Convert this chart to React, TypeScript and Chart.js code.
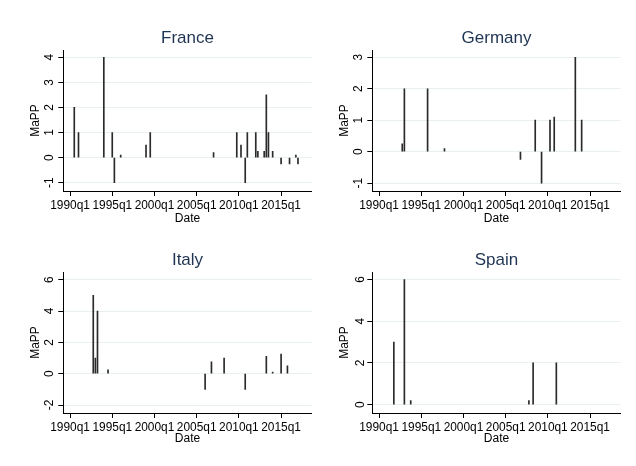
import React, { useEffect, useRef } from 'react';
import { Chart, registerables } from 'chart.js';

Chart.register(...registerables);

const FONT = "'Liberation Sans', Arial, Helvetica, sans-serif";
const TITLE_COLOR = '#1f3453';
const TEXT_COLOR = '#000000';
const AXIS_COLOR = '#000000';
const GRID_COLOR = '#e8f0f2';
const BAR_COLOR = '#2a2a2a';

// x axis (quarters)
const xTickLabels = ['1990q1', '1995q1', '2000q1', '2005q1', '2010q1', '2015q1'];
const X_MIN_Q = 116.8; // a little before 1990q1 (Stata %tq units)
const X_MAX_Q = 234.5; // a little after 2018q2

// France
const franceDates = ['1990q3', '1991q1', '1994q1', '1995q1', '1995q2', '1996q1', '1999q1', '1999q3', '2007q1', '2009q4', '2010q2', '2010q4', '2011q1', '2012q1', '2012q2', '2013q1', '2013q2', '2013q3', '2014q1', '2015q1', '2016q1', '2016q4', '2017q1'];
const franceValues = [2, 1, 4, 1, -1, 0.1, 0.5, 1, 0.2, 1, 0.5, -1, 1, 1, 0.25, 0.25, 2.5, 1, 0.25, -0.25, -0.25, 0.1, -0.25];
const franceYTicks = [-1, 0, 1, 2, 3, 4];
const franceYRange = [-1.33, 4.29];

// Germany
const germanyDates = ['1992q4', '1993q1', '1995q4', '1997q4', '2006q4', '2008q3', '2009q2', '2010q2', '2010q4', '2013q2', '2014q1'];
const germanyValues = [0.25, 2, 2, 0.1, -0.25, 1, -1, 1, 1.1, 3, 1];
const germanyYTicks = [-1, 0, 1, 2, 3];
const germanyYRange = [-1.25, 3.23];

// Italy
const italyDates = ['1992q4', '1993q1', '1993q2', '1994q3', '2006q1', '2006q4', '2008q2', '2010q4', '2013q2', '2014q1', '2015q1', '2015q4'];
const italyValues = [5, 1, 4, 0.25, -1, 0.75, 1, -1, 1.1, 0.1, 1.25, 0.5];
const italyYTicks = [-2, 0, 2, 4, 6];
const italyYRange = [-2.51, 6.49];

// Spain
const spainDates = ['1991q4', '1993q1', '1993q4', '2007q4', '2008q2', '2011q1'];
const spainValues = [3, 6, 0.2, 0.2, 2, 2];
const spainYTicks = [0, 2, 4, 6];
const spainYRange = [-0.4, 6.36];

const toQ = (s: string) => {
  const [y, q] = s.split('q');
  return (Number(y) - 1960) * 4 + Number(q) - 1;
};

const CW = 318;
const CH = 233;

type PanelProps = {
  title: string;
  dates: string[];
  values: number[];
  yTicks: number[];
  yRange: number[];
  left: number;
  top: number;
  datePad: number;
};

function Panel({ title, dates, values, yTicks, yRange, left, top, datePad }: PanelProps) {
  const ref = useRef<HTMLCanvasElement>(null);
  useEffect(() => {
    const tickFont = { family: FONT, size: 11.9, weight: 'normal' as const };
    const titleFont = { family: FONT, size: 12, weight: 'normal' as const };
    const chart = new Chart(ref.current as HTMLCanvasElement, {
      type: 'bar',
      data: {
        datasets: [
          {
            data: dates.map((d, i) => ({ x: toQ(d), y: values[i] })),
            backgroundColor: BAR_COLOR,
            borderWidth: 0,
            barThickness: 1,
          },
        ],
      },
      options: {
        responsive: false,
        animation: false,
        devicePixelRatio: 1,
        layout: { padding: { left: 0, right: 6.3, top: 0, bottom: 0 } },
        plugins: {
          legend: { display: false },
          tooltip: { enabled: false },
          title: {
            display: true,
            text: title,
            fullSize: false,
            color: TITLE_COLOR,
            font: { family: FONT, size: 17, weight: 'normal' },
            padding: { top: 28.6, bottom: 1.0 },
          },
        },
        scales: {
          x: {
            type: 'linear',
            min: X_MIN_Q,
            max: X_MAX_Q,
            offset: false,
            afterBuildTicks: (s: any) => {
              s.ticks = xTickLabels.map((l) => ({ value: toQ(l) }));
            },
            afterFit: (s: any) => {
              s.height = 42;
            },
            ticks: {
              callback: (_v: any, i: number) => xTickLabels[i],
              font: tickFont,
              color: TEXT_COLOR,
              padding: 2.5,
              minRotation: 0,
              maxRotation: 0,
              autoSkip: false,
            },
            grid: { drawOnChartArea: false, tickLength: 5, tickColor: AXIS_COLOR, offset: false },
            border: { color: AXIS_COLOR, width: 1 },
            title: { display: true, text: 'Date', font: titleFont, color: TEXT_COLOR, padding: { top: 0, bottom: datePad } },
          },
          y: {
            min: yRange[0],
            max: yRange[1],
            afterBuildTicks: (s: any) => {
              s.ticks = yTicks.map((v) => ({ value: v }));
            },
            afterFit: (s: any) => {
              s.width = 63.3;
            },
            ticks: {
              font: tickFont,
              color: TEXT_COLOR,
              minRotation: 90,
              maxRotation: 90,
              crossAlign: 'center',
              padding: 3,
              autoSkip: false,
            },
            grid: { color: GRID_COLOR, tickColor: AXIS_COLOR, tickLength: 5 },
            border: { color: AXIS_COLOR, width: 1 },
            title: { display: true, text: 'MaPP', font: titleFont, color: TEXT_COLOR, padding: { top: 28.5, bottom: 0 } },
          },
        },
      },
    } as any);
    return () => chart.destroy();
  }, []);
  return (
    <canvas
      ref={ref}
      width={CW}
      height={CH}
      style={{ position: 'absolute', left, top, width: CW, height: CH }}
    />
  );
}

export default function App() {
  return (
    <div style={{ position: 'fixed', left: 0, top: 0, width: 636, height: 466, background: '#ffffff', overflow: 'hidden' }}>
      <Panel title="France" dates={franceDates} values={franceValues} yTicks={franceYTicks} yRange={franceYRange} left={0} top={0} datePad={6.8} />
      <Panel title="Germany" dates={germanyDates} values={germanyValues} yTicks={germanyYTicks} yRange={germanyYRange} left={309} top={0} datePad={6.8} />
      <Panel title="Italy" dates={italyDates} values={italyValues} yTicks={italyYTicks} yRange={italyYRange} left={0} top={222} datePad={8.8} />
      <Panel title="Spain" dates={spainDates} values={spainValues} yTicks={spainYTicks} yRange={spainYRange} left={309} top={222} datePad={8.8} />
    </div>
  );
}
